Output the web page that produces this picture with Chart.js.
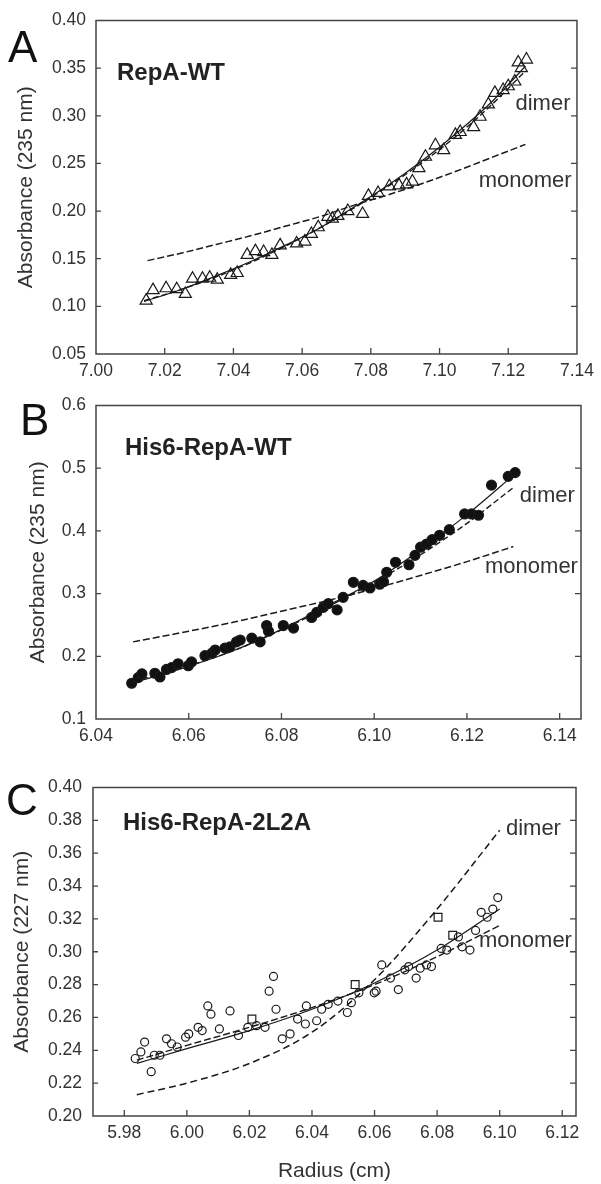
<!DOCTYPE html>
<html>
<head>
<meta charset="utf-8">
<script src="https://cdn.jsdelivr.net/npm/chart.js@4/dist/chart.umd.min.js"></script>
<style>
  html, body { margin: 0; padding: 0; background: #fff; }
  #wrap { position: relative; width: 601px; height: 1184px; }
  canvas { position: absolute; left: 0; }
</style>
</head>
<body>
<div id="wrap">
  <canvas id="chartA" width="601" height="385" style="top:0"></canvas>
  <canvas id="chartB" width="601" height="381" style="top:385px"></canvas>
  <canvas id="chartC" width="601" height="418" style="top:766px"></canvas>
</div>
<script>
// ---- Panel A: RepA-WT (open triangles) ----
const aTriR = [7.0146, 7.0166, 7.0204, 7.0235, 7.0260, 7.0281, 7.0310, 7.0331, 7.0353, 7.0392,
  7.0411, 7.0440, 7.0464, 7.0488, 7.0512, 7.0536, 7.0584, 7.0608, 7.0627, 7.0647,
  7.0675, 7.0688, 7.0704, 7.0733, 7.0776, 7.0793, 7.0821, 7.0854, 7.0882, 7.0904,
  7.0921, 7.0940, 7.0959, 7.0988, 7.1012, 7.1046, 7.1060, 7.1099, 7.1118, 7.1142,
  7.1161, 7.1185, 7.1200, 7.1219, 7.1238, 7.1229, 7.1253];
const aTriA = [0.106, 0.117, 0.119, 0.118, 0.113, 0.129, 0.129, 0.130, 0.128, 0.133,
  0.135, 0.154, 0.158, 0.157, 0.154, 0.164, 0.166, 0.168, 0.176, 0.183,
  0.194, 0.192, 0.195, 0.200, 0.197, 0.216, 0.219, 0.226, 0.227, 0.228,
  0.231, 0.245, 0.257, 0.269, 0.264, 0.280, 0.283, 0.288, 0.299, 0.312,
  0.324, 0.327, 0.331, 0.336, 0.350, 0.356, 0.359];
const aFitR = [7.014, 7.025, 7.035, 7.045, 7.055, 7.065, 7.075, 7.085, 7.095, 7.105, 7.115, 7.125];
const aFitA = [0.105, 0.118, 0.132, 0.147, 0.164, 0.182, 0.204, 0.227, 0.253, 0.282, 0.314, 0.352];
const aDimerA = [0.106, 0.118, 0.131, 0.146, 0.163, 0.182, 0.203, 0.226, 0.251, 0.279, 0.311, 0.347];
const aMonoR = [7.015, 7.025, 7.035, 7.045, 7.055, 7.065, 7.075, 7.085, 7.095, 7.105, 7.115, 7.125];
const aMonoA = [0.148, 0.156, 0.165, 0.174, 0.184, 0.194, 0.206, 0.217, 0.229, 0.242, 0.256, 0.270];

// ---- Panel B: His6-RepA-WT (filled circles) ----
const bDotR = [6.0477, 6.0491, 6.0499, 6.0527, 6.0538, 6.0552, 6.0563, 6.0577, 6.0599, 6.0606,
  6.0635, 6.0650, 6.0657, 6.0678, 6.0689, 6.0703, 6.0711, 6.0736, 6.0754, 6.0768,
  6.0772, 6.0804, 6.0826, 6.0865, 6.0876, 6.0890, 6.0901, 6.0920, 6.0933, 6.0955,
  6.0976, 6.0991, 6.1012, 6.1020, 6.1027, 6.1046, 6.1075, 6.1088, 6.1100, 6.1113,
  6.1125, 6.1141, 6.1162, 6.1195, 6.1210, 6.1225, 6.1253, 6.1289, 6.1304];
const bDotA = [0.157, 0.166, 0.172, 0.173, 0.167, 0.179, 0.182, 0.188, 0.185, 0.191,
  0.201, 0.205, 0.210, 0.213, 0.215, 0.223, 0.226, 0.229, 0.223, 0.249,
  0.240, 0.249, 0.245, 0.262, 0.270, 0.278, 0.284, 0.274, 0.294, 0.318,
  0.313, 0.309, 0.315, 0.319, 0.334, 0.350, 0.346, 0.361, 0.374, 0.379,
  0.386, 0.393, 0.402, 0.427, 0.427, 0.425, 0.473, 0.487, 0.493];
const bFitR = [6.048, 6.06, 6.07, 6.08, 6.09, 6.10, 6.11, 6.12, 6.131];
const bFitA = [0.158, 0.184, 0.210, 0.243, 0.281, 0.320, 0.370, 0.426, 0.495];
const bDimerR = [6.048, 6.06, 6.07, 6.08, 6.09, 6.10, 6.11, 6.12, 6.130];
const bDimerA = [0.160, 0.185, 0.210, 0.242, 0.279, 0.318, 0.362, 0.412, 0.469];
const bMonoR = [6.048, 6.06, 6.07, 6.08, 6.09, 6.10, 6.11, 6.12, 6.130];
const bMonoA = [0.223, 0.240, 0.255, 0.272, 0.289, 0.308, 0.329, 0.351, 0.375];

// ---- Panel C: His6-RepA-2L2A (open circles + a few squares) ----
const cCircR = [5.9835, 5.9853, 5.9865, 5.9886, 5.9896, 5.9914, 5.9935, 5.9951, 5.9969, 5.9996,
  6.0006, 6.0036, 6.0049, 6.0067, 6.0077, 6.0104, 6.0138, 6.0165, 6.0195, 6.0223,
  6.0250, 6.0263, 6.0277, 6.0285, 6.0305, 6.0330, 6.0354, 6.0379, 6.0382, 6.0415,
  6.0431, 6.0452, 6.0483, 6.0513, 6.0526, 6.0550, 6.0599, 6.0605, 6.0623, 6.0651,
  6.0676, 6.0697, 6.0709, 6.0733, 6.0746, 6.0766, 6.0782, 6.0813, 6.0831, 6.0868,
  6.0880, 6.0905, 6.0923, 6.0941, 6.0960, 6.0978, 6.0994];
const cCircA = [0.235, 0.239, 0.245, 0.227, 0.237, 0.237, 0.247, 0.244, 0.242, 0.248,
  0.250, 0.254, 0.252, 0.267, 0.262, 0.253, 0.264, 0.249, 0.254, 0.255,
  0.254, 0.276, 0.285, 0.265, 0.247, 0.250, 0.259, 0.256, 0.267, 0.258,
  0.265, 0.268, 0.270, 0.263, 0.269, 0.275, 0.275, 0.276, 0.292, 0.284,
  0.277, 0.289, 0.291, 0.284, 0.290, 0.292, 0.291, 0.302, 0.301, 0.309,
  0.303, 0.301, 0.313, 0.324, 0.321, 0.326, 0.333];
const cSqR = [6.0208, 6.0538, 6.0803, 6.0850];
const cSqA = [0.259, 0.280, 0.321, 0.310];
const cFitR = [5.984, 6.00, 6.02, 6.04, 6.06, 6.08, 6.10];
const cFitA = [0.232, 0.241, 0.252, 0.265, 0.281, 0.301, 0.326];
const cMonoA = [0.234, 0.243, 0.254, 0.266, 0.280, 0.297, 0.316];
const cDimerR = [5.984, 6.00, 6.02, 6.04, 6.06, 6.08, 6.10];
const cDimerA = [0.213, 0.220, 0.232, 0.251, 0.283, 0.326, 0.374];

const FONT = "'Liberation Sans', Arial, Helvetica, sans-serif";
Chart.defaults.font.family = FONT;
Chart.defaults.color = "#333";

const pts = (xs, ys) => xs.map((x, i) => ({ x: x, y: ys[i] }));

function markers(xs, ys, style, radius, filled) {
    return {
        data: pts(xs, ys),
        showLine: false,
        pointStyle: style,
        pointRadius: radius,
        pointHoverRadius: radius,
        pointBorderWidth: 1.2,
        pointBorderColor: "#1a1a1a",
        pointBackgroundColor: filled ? "#111" : "rgba(0,0,0,0)",
    };
}

function curve(xs, ys, dash, width) {
    return {
        data: pts(xs, ys),
        showLine: true,
        pointRadius: 0,
        borderColor: "#1a1a1a",
        borderWidth: width,
        borderDash: dash,
        cubicInterpolationMode: "monotone",
    };
}

// frame, inward ticks, panel letter, bold title and curve labels
function decor(cfg) {
    return {
        id: "decor" + cfg.letter,
        afterDatasetsDraw(chart) {
            const { ctx, chartArea: a, scales } = chart;
            const x = scales.x, y = scales.y;
            ctx.save();
            ctx.strokeStyle = "#444";
            ctx.lineWidth = 1.5;
            ctx.strokeRect(a.left, a.top, a.right - a.left, a.bottom - a.top);
            ctx.lineWidth = 1.3;
            ctx.beginPath();
            y.ticks.forEach((t) => {
                const py = y.getPixelForValue(t.value);
                if (py <= a.top + 1 || py >= a.bottom - 1) return;
                ctx.moveTo(a.left, py);
                ctx.lineTo(a.left + 5, py);
                ctx.moveTo(a.right, py);
                ctx.lineTo(a.right - 6, py);
            });
            x.ticks.forEach((t) => {
                const px = x.getPixelForValue(t.value);
                if (px <= a.left + 1 || px >= a.right - 1) return;
                ctx.moveTo(px, a.bottom);
                ctx.lineTo(px, a.bottom - 6);
            });
            ctx.stroke();

            ctx.fillStyle = "#111";
            ctx.textAlign = "left";
            ctx.textBaseline = "alphabetic";
            ctx.font = "44px " + FONT;
            ctx.fillText(cfg.letter, cfg.letterX, cfg.letterY);

            ctx.textBaseline = "middle";
            ctx.fillStyle = "#222";
            ctx.font = "bold 24px " + FONT;
            ctx.fillText(cfg.title, cfg.titleX, cfg.titleY);

            ctx.fillStyle = "#333";
            ctx.font = "22px " + FONT;
            cfg.notes.forEach((n) => {
                ctx.fillText(n.text, x.getPixelForValue(n.r), y.getPixelForValue(n.a));
            });
            ctx.restore();
        },
    };
}

function makeChart(id, o) {
    return new Chart(document.getElementById(id), {
        type: "scatter",
        data: { datasets: o.datasets },
        options: {
            responsive: false,
            animation: false,
            events: [],
            layout: { padding: { left: 0, right: 601 - o.right, top: o.top, bottom: 0 } },
            plugins: { legend: { display: false }, tooltip: { enabled: false } },
            scales: {
                x: {
                    type: "linear",
                    min: o.xMin,
                    max: o.xMax,
                    grid: { display: false, drawTicks: false },
                    border: { display: false },
                    ticks: {
                        stepSize: 0.02,
                        includeBounds: false,
                        padding: 7,
                        maxRotation: 0,
                        autoSkip: false,
                        font: { size: 17.5 },
                        callback: (v) => v.toFixed(2),
                    },
                    title: o.xTitle
                        ? { display: true, text: o.xTitle, font: { size: 21 }, padding: { top: 0, bottom: 0 } }
                        : { display: false },
                    afterFit: (s) => { s.height = o.xHeight; },
                },
                y: {
                    type: "linear",
                    min: o.yMin,
                    max: o.yMax,
                    grid: { display: false, drawTicks: false },
                    border: { display: false },
                    ticks: {
                        stepSize: o.yStep,
                        padding: o.yPad,
                        autoSkip: false,
                        font: { size: 17.5 },
                        callback: (v) => v.toFixed(o.yDec),
                    },
                    title: {
                        display: true,
                        text: o.yTitle,
                        font: { size: 21 },
                        padding: { top: o.yTitlePad, bottom: 0 },
                    },
                    afterFit: (s) => { s.width = o.left; },
                },
            },
        },
        plugins: [decor(o.decor)],
    });
}

makeChart("chartA", {
    left: 96, right: 581, top: 15, xHeight: 31,
    xMin: 7.0, xMax: 7.14, yMin: 0.05, yMax: 0.40, yStep: 0.05, yDec: 2, yPad: 10,
    yTitle: "Absorbance (235 nm)", yTitlePad: 14,
    datasets: [
        markers(aTriR, aTriA, "triangle", 7, false),
        curve(aFitR, aFitA, [], 1.2),
        curve(aFitR, aDimerA, [6, 3], 1.4),
        curve(aMonoR, aMonoA, [7, 3], 1.5),
    ],
    decor: {
        letter: "A", letterX: 8, letterY: 62,
        title: "RepA-WT", titleX: 117, titleY: 73,
        notes: [
            { text: "dimer", r: 7.1221, a: 0.3122 },
            { text: "monomer", r: 7.1114, a: 0.2317 },
        ],
    },
});

makeChart("chartB", {
    left: 96, right: 581, top: 13, xHeight: 47,
    xMin: 6.04, xMax: 6.1446, yMin: 0.1, yMax: 0.6, yStep: 0.1, yDec: 1, yPad: 10,
    yTitle: "Absorbance (235 nm)", yTitlePad: 26,
    datasets: [
        markers(bDotR, bDotA, "circle", 5, true),
        curve(bFitR, bFitA, [], 1.2),
        curve(bDimerR, bDimerA, [6, 3], 1.4),
        curve(bMonoR, bMonoA, [7, 3], 1.5),
    ],
    decor: {
        letter: "B", letterX: 20, letterY: 50,
        title: "His6-RepA-WT", titleX: 125, titleY: 63,
        notes: [
            { text: "dimer", r: 6.1314, a: 0.4557 },
            { text: "monomer", r: 6.1239, a: 0.3429 },
        ],
    },
});

makeChart("chartC", {
    left: 93, right: 576, top: 13, xHeight: 68,
    xMin: 5.97, xMax: 6.1244, yMin: 0.2, yMax: 0.4, yStep: 0.02, yDec: 2, yPad: 11,
    yTitle: "Absorbance (227 nm)", yTitlePad: 10, xTitle: "Radius (cm)",
    datasets: [
        markers(cCircR, cCircA, "circle", 4, false),
        markers(cSqR, cSqA, "rect", 5.5, false),
        curve(cFitR, cFitA, [], 1.2),
        curve(cFitR, cMonoA, [7, 3], 1.4),
        curve(cDimerR, cDimerA, [7, 4], 1.5),
    ],
    decor: {
        letter: "C", letterX: 6, letterY: 49,
        title: "His6-RepA-2L2A", titleX: 123, titleY: 57,
        notes: [
            { text: "dimer", r: 6.102, a: 0.3745 },
            { text: "monomer", r: 6.0934, a: 0.3067 },
        ],
    },
});
</script>
</body>
</html>
